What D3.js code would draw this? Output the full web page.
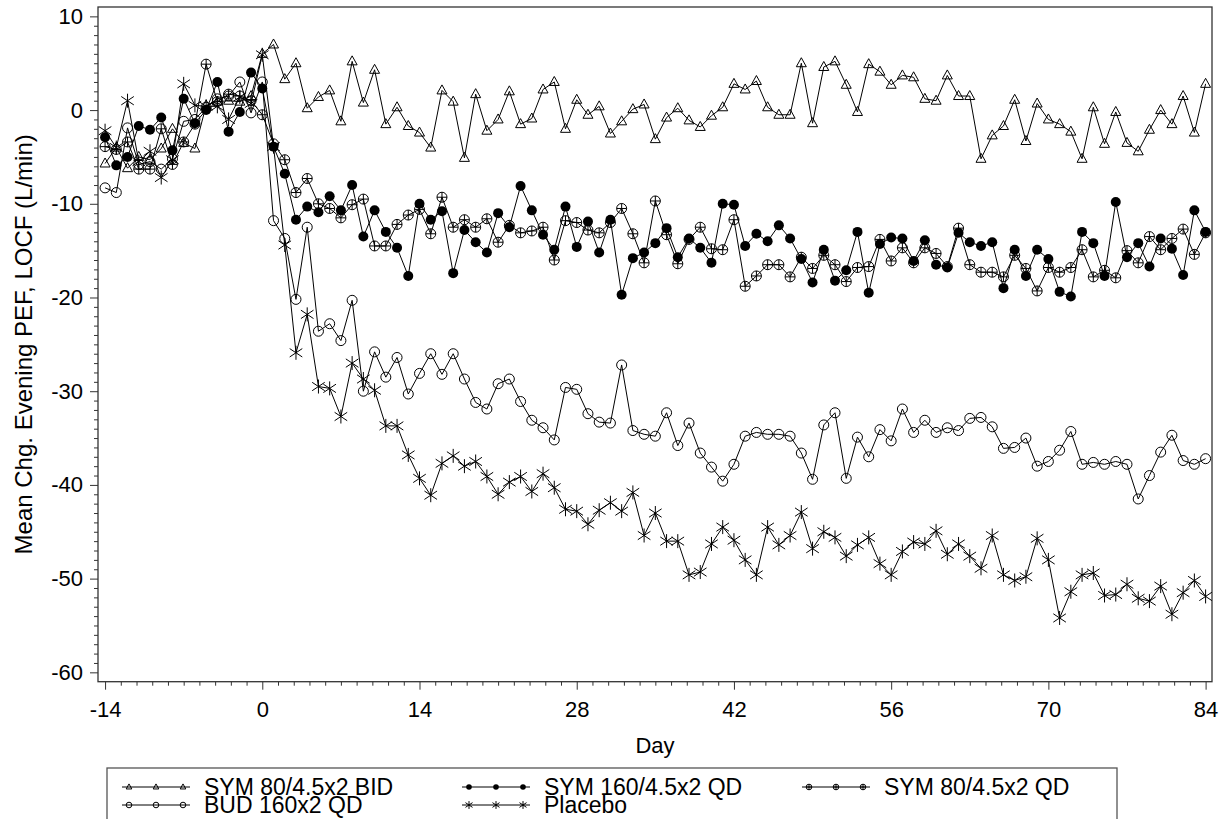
<!DOCTYPE html>
<html>
<head>
<meta charset="utf-8">
<script src="https://cdn.jsdelivr.net/npm/d3@7/dist/d3.min.js"></script>
<style>
  body { margin: 0; background: #fff; }
  svg { display: block; font-family: "Liberation Sans", Arial, sans-serif; }
</style>
</head>
<body>
<svg id="chart" width="1226" height="819"></svg>
<script>
// Day -14 .. 84, one value per day
const days = d3.range(-14, 85);
const xTicks = [-14, 0, 14, 28, 42, 56, 70, 84];
const yTicks = [-60, -50, -40, -30, -20, -10, 0, 10];

const symBid = [
  -5.7, -4.0, -6.2, -5.0, -5.3, -4.1, -2.0, -3.5, -4.1, 0.5, 0.9, 1.0, 0.9, 1.5, 6.0,
  7.0, 3.3, 5.0, 0.2, 1.4, 2.1, -1.2, 5.2, 0.8, 4.3, -1.5, 0.3, -1.7, -2.4, -4.0, 2.1, 0.9, -5.1, 1.7, -2.2, -1.0, 2.0,
  -1.5, -0.9, 2.2, 3.0, -2.0, 1.1, -0.5, 0.4, -2.5, -1.2, 0.1, 0.6, -3.1, -0.8, 0.2, -1.1, -1.8, -0.6, 0.3, 2.8, 2.2, 3.1, 0.3, -0.5, -0.5,
  5.0, -1.4, 4.6, 5.2, 2.7, -0.2, 4.9, 4.1, 2.7, 3.7, 3.5, 1.2, 1.0, 3.7, 1.5, 1.5, -5.2, -2.7,
  -1.7, 1.1, -3.3, 0.7, -1.0, -1.5, -2.3, -5.2, 0.3, -3.6, -0.2, -3.5, -4.4, -2.1, 0.0, -1.5, 1.5, -2.4, 2.8
];
const sym160Qd = [
  -2.9, -5.9, -5.0, -1.7, -2.1, -0.8, -4.3, 1.2, -1.4, 0.0, 3.0, -2.3, -0.2, 4.0, 2.3,
  -3.9, -6.8, -11.7, -10.3, -10.9, -9.2, -10.7, -8.0, -13.5, -10.7, -13.0, -14.7, -17.7, -10.0, -11.7, -10.8, -17.4, -12.8, -14.1, -15.2, -11.0, -12.5,
  -8.1, -10.7, -13.3, -14.9, -10.3, -14.6, -11.9, -15.2, -11.7, -19.7, -15.8, -15.2, -14.2, -12.6, -15.7, -13.7, -14.7, -16.3, -10.0, -10.1, -14.5, -13.2, -14.0, -12.3, -13.7,
  -15.9, -18.4, -14.9, -18.2, -17.1, -13.0, -19.5, -14.3, -13.6, -13.7, -16.1, -13.9, -16.5, -16.8, -13.1, -14.1, -14.5, -14.1,
  -19.0, -14.9, -17.7, -14.9, -15.9, -19.4, -19.9, -13.0, -14.2, -17.7, -9.8, -15.7, -14.2, -16.7, -13.7, -14.8, -17.6, -10.7, -13.0
];
const sym80Qd = [
  -3.9, -4.2, -3.4, -6.3, -6.3, -2.0, -5.8, -3.4, -1.5, 4.9, 0.9, 1.7, 1.5, 1.0, -0.5,
  -3.6, -5.3, -8.8, -7.3, -10.0, -10.5, -11.5, -10.1, -9.5, -14.5, -14.5, -12.2, -11.2, -10.6, -13.2, -9.3, -12.5, -11.7, -12.5, -11.6, -14.1, -12.3,
  -13.1, -12.9, -12.5, -16.0, -11.8, -12.0, -12.8, -13.1, -12.0, -10.5, -13.2, -16.3, -9.7, -13.3, -16.4, -13.8, -12.5, -14.8, -14.9, -11.7, -18.8, -17.7, -16.5, -16.5, -17.8,
  -15.7, -16.9, -15.5, -16.5, -18.3, -16.8, -16.7, -13.8, -16.1, -14.7, -16.3, -14.7, -15.3, -16.7, -12.6, -16.5, -17.3, -17.3,
  -17.8, -15.5, -16.9, -19.3, -16.8, -17.3, -16.8, -14.9, -17.8, -17.1, -17.9, -15.0, -16.3, -13.5, -14.9, -13.7, -12.7, -15.4, -13.1
];
const bud160Qd = [
  -8.3, -8.8, -1.9, -5.8, -5.5, -6.3, -5.2, -1.2, -1.0, 0.3, 1.2, 1.5, 3.0, -0.3, 3.0,
  -11.8, -13.7, -20.2, -12.5, -23.6, -22.8, -24.6, -20.3, -30.0, -25.8, -28.5, -26.4, -30.3, -28.1, -26.0, -28.2, -26.0, -28.7, -31.2, -31.9, -29.2, -28.7,
  -31.1, -33.1, -33.9, -35.2, -29.6, -29.8, -32.4, -33.3, -33.4, -27.2, -34.2, -34.6, -34.8, -32.3, -35.8, -33.4, -36.6, -38.1, -39.6, -37.8, -34.8, -34.4, -34.6, -34.6, -34.8,
  -36.6, -39.4, -33.6, -32.3, -39.3, -34.9, -37.0, -34.1, -35.3, -31.9, -34.4, -33.1, -34.4, -33.9, -34.2, -32.9, -32.8, -33.8,
  -36.1, -36.0, -35.0, -38.0, -37.5, -36.3, -34.3, -37.8, -37.6, -37.8, -37.5, -37.8, -41.5, -39.0, -36.5, -34.7, -37.4, -37.8, -37.2
];
const placebo = [
  -2.2, -4.0, 1.0, -5.5, -4.4, -7.2, -5.3, 2.8, 0.5, 0.4, 0.4, -1.0, 1.4, 0.7, 5.9,
  -3.9, -14.4, -25.9, -21.8, -29.5, -29.7, -32.7, -27.0, -28.7, -29.9, -33.7, -33.7, -36.8, -39.3, -41.1, -37.7, -36.9, -38.0, -37.5, -39.1, -41.0, -39.7,
  -39.1, -40.7, -38.8, -40.3, -42.6, -42.8, -44.2, -42.7, -41.9, -42.8, -40.8, -45.4, -43.0, -46.0, -46.0, -49.6, -49.3, -46.3, -44.5, -45.9, -48.0, -49.6, -44.5, -46.4, -45.4,
  -42.9, -46.8, -45.0, -45.6, -47.6, -46.4, -45.6, -48.4, -49.6, -47.1, -46.1, -46.3, -44.9, -47.4, -46.3, -47.6, -48.9, -45.4,
  -49.6, -50.2, -49.8, -45.7, -48.0, -54.2, -51.4, -49.6, -49.4, -51.8, -51.7, -50.6, -52.1, -52.4, -50.8, -53.8, -51.5, -50.2, -51.9
];

const seriesNames = ["SYM 80/4.5x2 BID", "SYM 160/4.5x2 QD", "SYM 80/4.5x2 QD", "BUD 160x2 QD", "Placebo"];
const seriesValues = [symBid, sym160Qd, sym80Qd, bud160Qd, placebo];
const seriesSymbols = ["triangle", "dot", "crossCircle", "circle", "star"];

const svg = d3.select("#chart");
const plot = { left: 98, top: 7, right: 1212, bottom: 681.7 };

const x = d3.scaleLinear().domain([-14.63, 84.57]).range([plot.left, plot.right]);
const y = d3.scaleLinear().domain([-61, 11]).range([plot.bottom, plot.top]);

// minor ticks
const xMinor = d3.range(-14, 84.01, 1.4).filter((d) => !xTicks.some((t) => Math.abs(t - d) < 0.01));
const yMinor = d3.range(-60, 11, 1).filter((d) => d % 10 !== 0);

const xAxis = svg.append("g").attr("transform", `translate(0,${plot.bottom})`);
xAxis.call(d3.axisBottom(x).tickValues(xMinor).tickSize(4).tickFormat(""));
xAxis.append("g").call(d3.axisBottom(x).tickValues(xTicks).tickSize(8).tickFormat((d) => String(d)));
xAxis.selectAll(".domain").remove();
xAxis.selectAll("line").attr("stroke", "#333");
xAxis.selectAll("text")
  .attr("fill", "#000")
  .attr("font-size", 22)
  .attr("font-family", "Liberation Sans, Arial, sans-serif")
  .attr("y", 28)
  .attr("dy", "0.35em");

const yAxis = svg.append("g").attr("transform", `translate(${plot.left},0)`);
yAxis.call(d3.axisLeft(y).tickValues(yMinor).tickSize(4).tickFormat(""));
yAxis.append("g").call(d3.axisLeft(y).tickValues(yTicks).tickSize(8).tickFormat((d) => String(d)));
yAxis.selectAll(".domain").remove();
yAxis.selectAll("line").attr("stroke", "#333");
yAxis.selectAll("text")
  .attr("fill", "#000")
  .attr("font-size", 22)
  .attr("font-family", "Liberation Sans, Arial, sans-serif")
  .attr("x", -15);

svg.append("rect")
  .attr("x", plot.left)
  .attr("y", plot.top)
  .attr("width", plot.right - plot.left)
  .attr("height", plot.bottom - plot.top)
  .attr("fill", "none")
  .attr("stroke", "#333")
  .attr("stroke-width", 1.3);

svg.append("text")
  .attr("x", (plot.left + plot.right) / 2)
  .attr("y", 745)
  .attr("dy", "0.35em")
  .attr("text-anchor", "middle")
  .attr("font-size", 22)
  .text("Day");

svg.append("text")
  .attr("transform", `translate(24,${(plot.top + plot.bottom) / 2}) rotate(-90)`)
  .attr("dy", "0.35em")
  .attr("text-anchor", "middle")
  .attr("font-size", 24)
  .text("Mean Chg. Evening PEF, LOCF (L/min)");

function drawSymbol(g, type, s) {
  if (type == "triangle") {
    g.append("path")
      .attr("d", `M0,${-s * 1.1}L${s},${s * 0.7}L${-s},${s * 0.7}Z`)
      .attr("fill", "none").attr("stroke", "#000");
  } else if (type == "dot") {
    g.append("circle").attr("r", s).attr("fill", "#000");
  } else if (type == "circle") {
    g.append("circle").attr("r", s).attr("fill", "none").attr("stroke", "#000");
  } else if (type == "crossCircle") {
    g.append("circle").attr("r", s).attr("fill", "none").attr("stroke", "#000");
    g.append("path")
      .attr("d", `M${-s},0H${s}M0,${-s}V${s}`)
      .attr("stroke", "#000");
  } else if (type == "star") {
    const a = s * 1.4;
    g.append("path")
      .attr("d", `M0,${-a}V${a}M${-a * 0.9},${-a * 0.6}L${a * 0.9},${a * 0.6}M${-a * 0.9},${a * 0.6}L${a * 0.9},${-a * 0.6}`)
      .attr("stroke", "#000");
  }
}

const line = d3.line()
  .x((d, i) => x(days[i]))
  .y((d) => y(d));

seriesValues.forEach((values, k) => {
  svg.append("path")
    .datum(values)
    .attr("d", line)
    .attr("fill", "none")
    .attr("stroke", "#000")
    .attr("stroke-width", 1);

  svg.append("g")
    .selectAll("g")
    .data(values)
    .join("g")
    .attr("transform", (d, i) => `translate(${x(days[i])},${y(d)})`)
    .each(function () {
      drawSymbol(d3.select(this), seriesSymbols[k], 5);
    });
});

// legend
svg.append("rect")
  .attr("x", 107)
  .attr("y", 768)
  .attr("width", 1010)
  .attr("height", 80)
  .attr("fill", "none")
  .attr("stroke", "#555")
  .attr("stroke-width", 1.3);

const legendCols = [122, 462, 802];
const legendRows = [787, 805];
const legendSlots = [[0, 0], [1, 0], [2, 0], [0, 1], [1, 1]];

seriesNames.forEach((name, k) => {
  const [c, r] = legendSlots[k];
  const g = svg.append("g").attr("transform", `translate(${legendCols[c]},${legendRows[r]})`);
  g.append("line").attr("x1", 0).attr("x2", 68).attr("stroke", "#000");
  [7, 34, 61].forEach((mx) => {
    drawSymbol(g.append("g").attr("transform", `translate(${mx},0)`), seriesSymbols[k], 2.8);
  });
  g.append("text")
    .attr("x", 82)
    .attr("dy", "0.35em")
    .attr("font-size", 23)
    .text(name);
});
</script>
</body>
</html>
